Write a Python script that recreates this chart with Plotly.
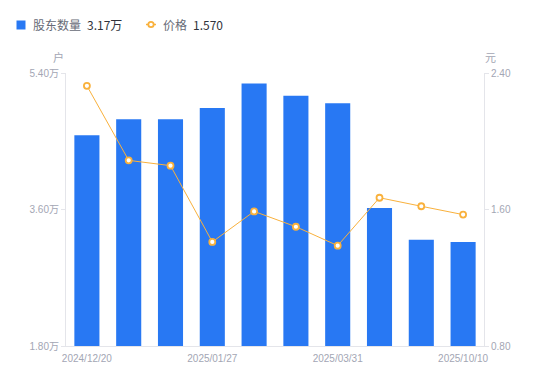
import plotly.graph_objects as go

dates = ["2024/12/20", "2024/12/31", "2025/01/10", "2025/01/27", "2025/02/10",
         "2025/02/28", "2025/03/31", "2025/06/30", "2025/09/30", "2025/10/10"]
holders_wan = [4.58, 4.79, 4.79, 4.94, 5.26, 5.10, 5.00, 3.62, 3.20, 3.17]
price = [2.325, 1.888, 1.857, 1.410, 1.589, 1.499, 1.388, 1.669, 1.619, 1.570]
shown_dates = ["2024/12/20", "2025/01/27", "2025/03/31", "2025/10/10"]
left_ticks = [1.8, 3.6, 5.4]
left_ticktext = ["1.80万", "3.60万", "5.40万"]
right_ticks = [0.8, 1.6, 2.4]
right_ticktext = ["0.80", "1.60", "2.40"]

BLUE = "#2878f3"
ORANGE = "#f9b13c"
TICKC = "#a3a6b4"
LINEC = "#e4e5ea"
FONT = "Noto Sans CJK SC, Noto Sans, sans-serif"
TFONT = "Liberation Sans, Arial, Noto Sans CJK SC, sans-serif"

W, H = 550, 381
ML, MR, MT, MB = 66, 66, 73, 35
PW = W - ML - MR
PH = H - MT - MB

def px(x):
    return (x - ML) / PW

def py(y):
    return 1 - (y - MT) / PH

fig = go.Figure()
fig.add_trace(go.Bar(x=dates, y=holders_wan, marker=dict(color=BLUE, line=dict(width=0)),
                     width=0.6, yaxis="y", showlegend=False, hoverinfo="skip"))
fig.add_trace(go.Scatter(x=dates, y=price, yaxis="y2", mode="lines+markers",
                         line=dict(color=ORANGE, width=1),
                         marker=dict(symbol="circle", size=6, color="white",
                                     line=dict(color=ORANGE, width=1.8)),
                         showlegend=False, hoverinfo="skip"))

tickfont = dict(family=TFONT, size=10, color=TICKC)
fig.update_layout(
    width=W, height=H,
    margin=dict(l=ML, r=MR, t=MT, b=MB),
    paper_bgcolor="white", plot_bgcolor="white",
    font=dict(family=FONT, size=10, color=TICKC),
    bargap=0.4,
    xaxis=dict(type="category", categoryorder="array", categoryarray=dates,
               range=[-0.5, len(dates) - 0.5], autorange=False,
               tickmode="array", tickvals=shown_dates, ticktext=shown_dates,
               showline=True, linecolor=LINEC, linewidth=1, showgrid=False,
               ticks="", ticklabelstandoff=3, tickfont=tickfont, zeroline=False),
    yaxis=dict(range=[1.8, 5.4], tickmode="array", tickvals=left_ticks, ticktext=left_ticktext,
               showline=True, linecolor=LINEC, linewidth=1, showgrid=False,
               ticks="outside", ticklen=4, tickcolor=LINEC, zeroline=False,
               tickfont=tickfont),
    yaxis2=dict(range=[0.8, 2.4], overlaying="y", side="right", tickmode="array",
                tickvals=right_ticks, ticktext=right_ticktext,
                showline=True, linecolor=LINEC, linewidth=1, showgrid=False,
                ticks="outside", ticklen=4, tickcolor=LINEC, zeroline=False,
                tickfont=tickfont),
)

shapes = [
    dict(type="rect", xref="paper", yref="paper", x0=px(16.5), x1=px(25.5), y0=py(20.5), y1=py(29.5),
         fillcolor=BLUE, line=dict(width=0)),
    dict(type="line", xref="paper", yref="paper", x0=px(146), x1=px(156), y0=py(24.5), y1=py(24.5),
         line=dict(color=ORANGE, width=1.5)),
    dict(type="circle", xref="paper", yref="paper", x0=px(148.3), x1=px(153.7), y0=py(21.8), y1=py(27.2),
         fillcolor="white", line=dict(color=ORANGE, width=1.8)),
]
fig.update_layout(shapes=shapes)

ann = [
    dict(text="股东数量", x=px(31), y=py(25), xanchor="left", yanchor="middle",
         font=dict(size=12, color="#676b77")),
    dict(text=f"{holders_wan[-1]:.2f}万", x=px(84.5), y=py(25), xanchor="left", yanchor="middle",
         font=dict(size=12, color="#30333b")),
    dict(text="价格", x=px(161), y=py(25), xanchor="left", yanchor="middle",
         font=dict(size=12, color="#676b77")),
    dict(text=f"{price[-1]:.3f}", x=px(191), y=py(25), xanchor="left", yanchor="middle",
         font=dict(size=12, color="#30333b")),
    dict(text="户", x=px(58), y=py(57), xanchor="center", yanchor="middle",
         font=dict(size=11, color=TICKC)),
    dict(text="元", x=px(490), y=py(57), xanchor="center", yanchor="middle",
         font=dict(size=11, color=TICKC)),
]
for a in ann:
    a.update(xref="paper", yref="paper", showarrow=False)
fig.update_layout(annotations=ann)

fig.write_html("out.html", config={"displayModeBar": False, "staticPlot": True},
               post_script="document.body.style.margin='0';document.body.style.padding='0';document.body.style.overflow='hidden';")
